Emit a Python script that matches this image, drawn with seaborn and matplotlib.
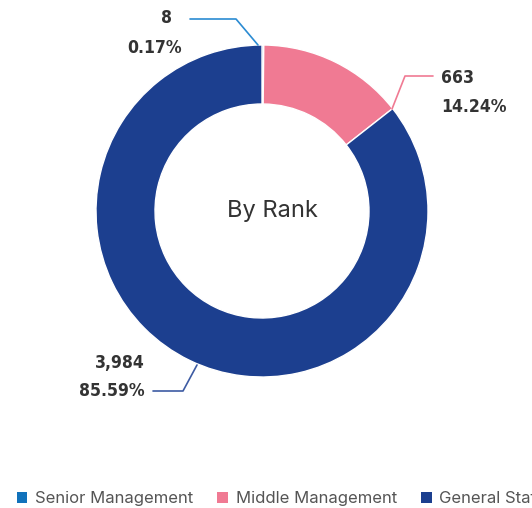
import matplotlib
matplotlib.use("Agg")
import matplotlib.pyplot as plt
import seaborn as sns
from matplotlib.patches import Patch

categories = ["Senior Management", "Middle Management", "General Staff"]
counts = [8, 663, 3984]
pct_labels = ["0.17%", "14.24%", "85.59%"]
count_labels = ["8", "663", "3,984"]
colors = ["#1172bb", "#f07a93", "#1c3f8f"]
line_colors = ["#2b8bd2", "#f07a93", "#3d5ba3"]

sns.set_theme(style="white")
plt.rcParams['font.family'] = ['DejaVu Sans']

W, H = 532, 508
fig = plt.figure(figsize=(W / 100, H / 100), dpi=100)
ax = fig.add_axes([0, 0, 1, 1])
cx, cy, R = 262, H - 211, 166
ax.pie(counts, colors=colors, startangle=90, counterclock=False,
       center=(cx, cy), radius=R, frame=True,
       wedgeprops=dict(width=59, edgecolor="white", linewidth=1.0))
ax.set_xlim(0, W)
ax.set_ylim(0, H)
ax.set_aspect("equal")
ax.axis("off")

ax.text(272, H - 211, "By Rank", ha="center", va="center", fontsize=17,
        color="#333333", family=["Inter", "DejaVu Sans"])

lab_kw = dict(fontsize=12.6, fontweight="bold", color="#333333",
              family=["DejaVu Sans"], fontstretch="condensed")
# Senior
ax.plot([258, 236, 190], [H - 45, H - 19, H - 19], color=line_colors[0], lw=1.2)
ax.text(172, H - 18, count_labels[0], ha="right", va="center", **lab_kw)
ax.text(182, H - 48, pct_labels[0], ha="right", va="center", **lab_kw)
# Middle
ax.plot([392, 405, 433], [H - 109, H - 76, H - 76], color=line_colors[1], lw=1.2)
ax.text(441, H - 78, count_labels[1], ha="left", va="center", **lab_kw)
ax.text(441, H - 107, pct_labels[1], ha="left", va="center", **lab_kw)
# General
ax.plot([197, 183, 153], [H - 365, H - 391, H - 391], color=line_colors[2], lw=1.2)
ax.text(145, H - 363, count_labels[2], ha="right", va="center", **lab_kw)
ax.text(145, H - 391, pct_labels[2], ha="right", va="center", **lab_kw)

handles = [Patch(facecolor=c, edgecolor="none") for c in colors]
fig.legend(handles, categories, loc="lower left", bbox_to_anchor=(0.003, -0.026),
           ncol=3, frameon=False, handlelength=0.65, handleheight=0.65,
           handletextpad=0.45, columnspacing=1.45,
           prop={"family": ["Inter", "DejaVu Sans"], "size": 12},
           labelcolor="#555555")

fig.savefig("out.png", dpi=100)
